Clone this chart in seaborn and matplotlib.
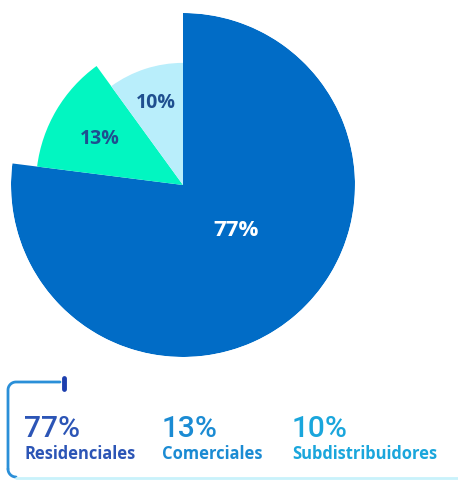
import numpy as np
import matplotlib
matplotlib.use("Agg")
import matplotlib.pyplot as plt
import seaborn as sns

# ---- data ----
categories = ["Residenciales", "Comerciales", "Subdistribuidores"]
shares = [77, 13, 10]                 # percent of the circle
radii = [1.00, 0.855, 0.71]           # relative slice radius
pct_labels = ["77%", "13%", "10%"]

# ---- style ----
sns.set_theme(style="white")
plt.rcParams["font.family"] = ["Open Sans", "DejaVu Sans"]
slice_colors = ["#016cc6", "#02f6c1", "#b9eefb"]
slice_text_colors = ["#ffffff", "#1f4f8f", "#1f4f8f"]
slice_text_sizes = [16, 14, 14]
label_r_frac = [0.39, 0.66, 0.73]
label_offsets = [(6, 4), (0, -2), (0, -1)]   # in points
legend_num_colors = ["#2c55b6", "#1b8bd3", "#1aa6dc"]
legend_x = [25, 163, 293]

W, H = 458, 481
fig = plt.figure(figsize=(W / 100, H / 100), dpi=100)

# overlay axes in pixel coordinates
ax0 = fig.add_axes([0, 0, 1, 1])
ax0.set_xlim(0, W)
ax0.set_ylim(H, 0)
ax0.axis("off")

# polar area pie
cx, cy, R = 183, 186, 172
pax = fig.add_axes([(cx - R) / W, 1 - (cy + R) / H, 2 * R / W, 2 * R / H],
                   projection="polar")
pax.set_theta_zero_location("N")
pax.set_theta_direction(-1)
fr = np.array(shares) / sum(shares)
widths = fr * 2 * np.pi
starts = np.concatenate([[0], np.cumsum(widths)[:-1]])
pax.bar(starts, radii, width=widths, align="edge", color=slice_colors,
        edgecolor="none", linewidth=0)
pax.set_ylim(0, 1)
pax.set_xticks([])
pax.set_yticks([])
pax.grid(False)
pax.spines["polar"].set_visible(False)
pax.patch.set_alpha(0)
for s, w, r, lab, c, f, fs, off in zip(starts, widths, radii, pct_labels,
                                       slice_text_colors, label_r_frac,
                                       slice_text_sizes, label_offsets):
    pax.annotate(lab, (s + w / 2, r * f), xytext=off,
                 textcoords="offset points", ha="center", va="center",
                 color=c, fontsize=fs, fontweight="bold")

# legend box
lc = "#2a8fd8"
t = np.linspace(0, np.pi / 2, 20)
rc = 8
x_top = [60, 8 + rc] + list(8 + rc - rc * np.sin(t)) + [8]
y_top = [383, 383] + list(383 + rc - rc * np.cos(t)) + [470]
x_bot = [8] + list(8 + rc - rc * np.cos(t)) + [16]
y_bot = [470] + list(470 + rc * np.sin(t)) + [478]
ax0.plot(x_top, y_top, color=lc, lw=2, solid_capstyle="round")
ax0.plot(x_bot, y_bot, color=lc, lw=2, solid_capstyle="round")
ax0.plot([16, W], [479, 479], color="#c9f2fb", lw=2)
ax0.plot([64, 64], [379, 390], color="#1d3fae", lw=3.5, solid_capstyle="round")

for x, lab, cat, c in zip(legend_x, pct_labels, categories, legend_num_colors):
    ax0.text(x - 1, 437, lab, ha="left", va="baseline", color=c,
             fontsize=21.5, fontweight=500, family=["Roboto", "Open Sans"])
    ax0.text(x - 1, 459, cat, ha="left", va="baseline", color=c,
             fontsize=11.9, fontweight="bold")

fig.savefig("out.png", dpi=100)
